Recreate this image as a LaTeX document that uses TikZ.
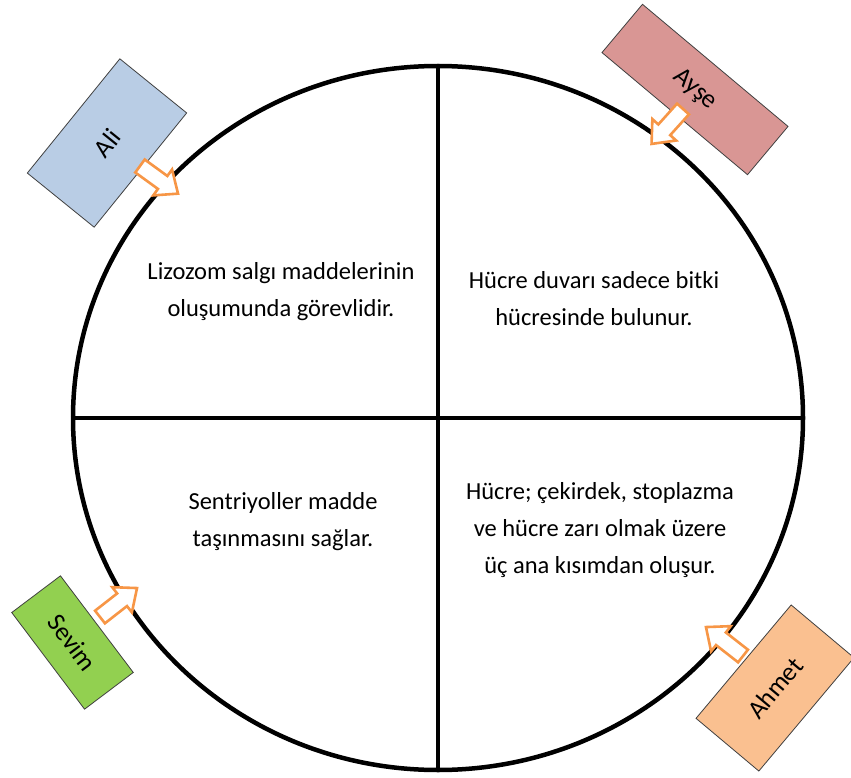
\documentclass[tikz,border=0pt]{standalone}
\usepackage{fontspec}
\setmainfont{Carlito}
\usetikzlibrary{shapes.geometric}
\definecolor{aliblue}{HTML}{B9CDE5}
\definecolor{aysepink}{HTML}{D99694}
\definecolor{sevimgreen}{HTML}{92D050}
\definecolor{ahmetpeach}{HTML}{FAC090}
\definecolor{arrorange}{HTML}{F79646}
\definecolor{boxline}{HTML}{404040}
\tikzset{
  namebox/.style={draw=boxline, line width=0.8pt, inner sep=0pt, font=\fontsize{26}{30}\selectfont},
  celltext/.style={align=center, font=\fontsize{24.5}{37}\selectfont},
  arrowline/.style={draw=arrorange, fill=white, line width=2.6pt, line join=miter},
  blockarr/.pic={\path[arrowline] (0,-8) -- (28,-8) -- (28,-16) -- (47,0) -- (28,16) -- (28,8) -- (0,8) -- cycle;}
}
\begin{document}
\begin{tikzpicture}[x=1pt, y=-1pt]
\useasboundingbox (0,0) rectangle (851,778);
\fill[white] (0,0) rectangle (851,778);
% circle and dividers
\node[ellipse, draw=black, line width=4.5pt, minimum width=730pt, minimum height=704pt, inner sep=0pt] (circ) at (438,418) {};
\draw[line width=4.5pt] (circ.north) -- (circ.south);
\draw[line width=4.5pt] (circ.west) -- (circ.east);
% texts
\node[celltext] (tl) at (281,292) {Lizozom salgı maddelerinin\\oluşumunda görevlidir.};
\node[celltext] (tr) at (594,299) {Hücre duvarı sadece bitki\\hücresinde bulunur.};
\node[celltext] (bl) at (283,522) {Sentriyoller madde\\taşınmasını sağlar.};
\node[celltext] (br) at (600,530) {Hücre; çekirdek, stoplazma\\ve hücre zarı olmak üzere\\üç ana kısımdan oluşur.};
% name boxes
\node[namebox, fill=aliblue, minimum width=147pt, minimum height=86pt, rotate=51] (ali) at (107,143) {Ali};
\node[namebox, fill=aysepink, minimum width=190pt, minimum height=63pt, rotate=-40] (ayse) at (695,89.5) {Ayşe};
\node[namebox, fill=sevimgreen, minimum width=121pt, minimum height=61pt, rotate=-53] (sevim) at (72.5,642.5) {Sevim};
\node[namebox, fill=ahmetpeach, minimum width=148pt, minimum height=82pt, rotate=50] (ahmet) at (775,688) {Ahmet};
% block arrows
\pic[rotate=-36] at (140,166) {blockarr};
\pic[rotate=-132] at (683,109) {blockarr};
\pic[rotate=38] at (100,617) {blockarr};
\pic[rotate=142] at (743,656) {blockarr};
\end{tikzpicture}
\end{document}
